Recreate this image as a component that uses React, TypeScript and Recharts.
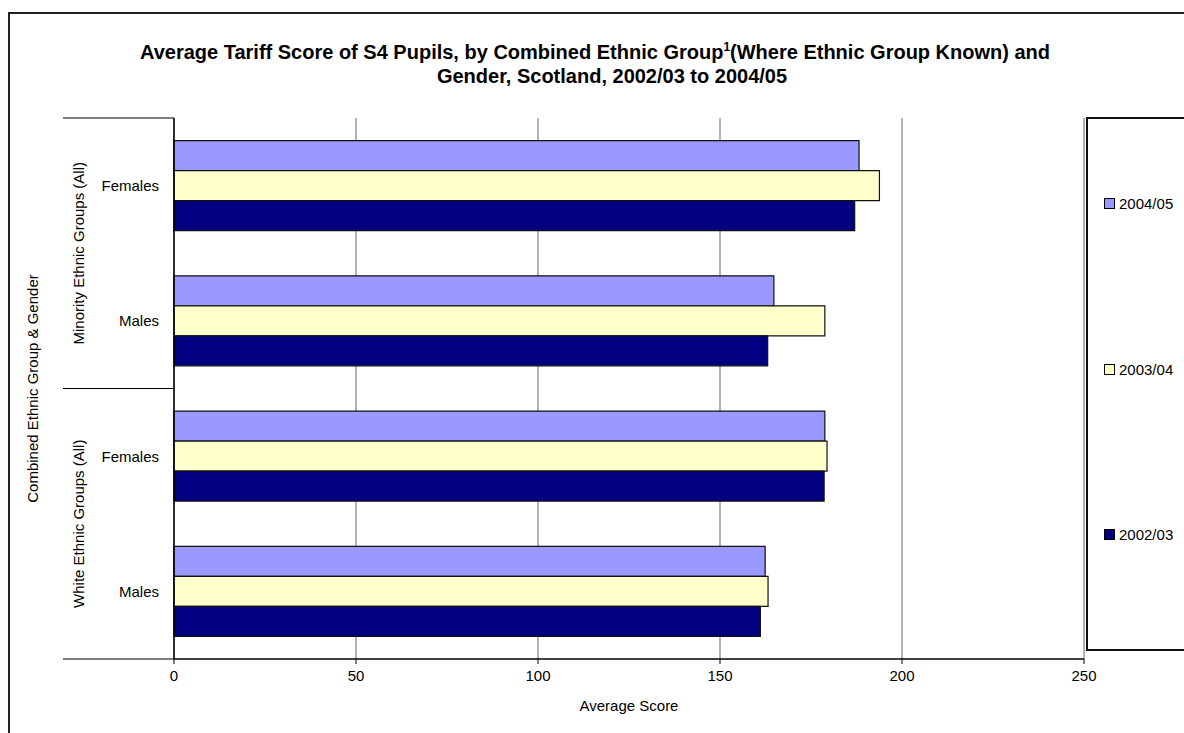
import React from 'react';
import { BarChart, Bar, XAxis, YAxis, CartesianGrid, Legend } from 'recharts';

const groups = ['Minority Ethnic Groups (All)', 'White Ethnic Groups (All)'];
const genders = ['Females', 'Males', 'Females', 'Males'];
const groupOfRow = [0, 0, 1, 1];
const s200405 = [188.2, 164.8, 178.8, 162.4];
const s200304 = [193.8, 178.8, 179.4, 163.2];
const s200203 = [187.0, 163.1, 178.6, 161.1];
const seriesNames = ['2004/05', '2003/04', '2002/03'];
const seriesColors = ['#9999FF', '#FFFFCC', '#000080'];
const xTicks = [0, 50, 100, 150, 200, 250];

const data = genders.map((g, i) => ({
  key: `${groups[groupOfRow[i]]}|${g}`,
  gender: g,
  group: groups[groupOfRow[i]],
  v0: s200405[i],
  v1: s200304[i],
  v2: s200203[i],
}));

const FONT = 'Arial, "Liberation Sans", sans-serif';

const YTick = (props: any) => {
  const { x, y, payload } = props;
  const index = payload.index ?? props.index;
  const row = data[index];
  const half = payload.offset ? payload.offset : 541 / 8;
  const els: any[] = [];
  els.push(
    <text key="t" x={x} y={y} textAnchor="end" dominantBaseline="central" fontSize={15} fontFamily={FONT} fill="#000">
      {row.gender}
    </text>
  );
  const first = index === 0 || groupOfRow[index - 1] !== groupOfRow[index];
  const last = index === data.length - 1 || groupOfRow[index + 1] !== groupOfRow[index];
  if (first) {
    els.push(<line key="s1" x1={x - 96} x2={x + 15} y1={y - half} y2={y - half} stroke="#000" strokeWidth={1.2} />);
  }
  if (last) {
    const top = y - half * (2 * (index - data.findIndex((d, j) => groupOfRow[j] === groupOfRow[index])) + 1);
    const cy = (top + y + half) / 2;
    const gx = x - 81;
    els.push(<line key="s2" x1={x - 96} x2={x + 15} y1={y + half} y2={y + half} stroke="#000" strokeWidth={1.2} />);
    els.push(
      <text key="g" x={gx} y={cy} transform={`rotate(-90 ${gx} ${cy})`} textAnchor="middle" dominantBaseline="central" fontSize={15} fontFamily={FONT} fill="#000">
        {row.group}
      </text>
    );
  }
  return <g>{els}</g>;
};

const renderLegend = (props: any) => {
  const payload = (props.payload || []).slice().sort((a: any, b: any) => seriesNames.indexOf(a.value) - seriesNames.indexOf(b.value));
  const tops = [84, 250, 415];
  return (
    <div style={{ position: 'relative', width: 200, height: 534, border: '2px solid #111', boxSizing: 'border-box' }}>
      {payload.map((p: any, i: number) => (
        <div key={p.value} style={{ position: 'absolute', left: 16, top: tops[i] - 10, height: 20, display: 'flex', alignItems: 'center', fontFamily: FONT, fontSize: 15, color: '#000', whiteSpace: 'nowrap' }}>
          <span style={{ display: 'inline-block', width: 9, height: 9, background: p.color, border: '1px solid #000', marginRight: 4 }} />
          {p.value}
        </div>
      ))}
    </div>
  );
};

const titleStyle: any = { position: 'absolute', width: 1000, textAlign: 'center', fontFamily: FONT, fontWeight: 'bold', fontSize: 20, lineHeight: '24px', color: '#000', whiteSpace: 'nowrap' };

export default function App() {
  return (
    <div style={{ position: 'fixed', left: 0, top: 0, width: 1184, height: 733, background: '#fff', overflow: 'hidden' }}>
      <div style={{ position: 'absolute', left: 8, top: 12, width: 2000, height: 2000, border: '2px solid #222' }} />
      <div style={{ ...titleStyle, left: 95, top: 40 }}>
        Average Tariff Score of S4 Pupils, by Combined Ethnic Group<sup style={{ fontSize: 12, lineHeight: 0 }}>1</sup>(Where Ethnic Group Known) and
      </div>
      <div style={{ ...titleStyle, left: 112, top: 64 }}>Gender, Scotland, 2002/03 to 2004/05</div>
      <div style={{ position: 'absolute', left: 0, top: 0 }}>
        <BarChart
          width={1184}
          height={733}
          data={data}
          layout="vertical"
          margin={{ top: 118, right: 100, bottom: 24, left: 0 }}
          barCategoryGap="16.7%"
          barGap={0}
        >
          <CartesianGrid horizontal={false} vertical stroke="#666" strokeWidth={1} />
          <XAxis
            type="number"
            domain={[0, 250]}
            ticks={xTicks}
            interval={0}
            height={50}
            tickSize={5}
            tickMargin={6}
            axisLine={{ stroke: '#000', strokeWidth: 1.5 }}
            tickLine={{ stroke: '#000' }}
            tick={{ fontSize: 15, fontFamily: FONT, fill: '#000' }}
            label={{
              value: 'Average Score',
              content: (p: any) => (
                <text x={p.viewBox.x + p.viewBox.width / 2} y={705} textAnchor="middle" dominantBaseline="central" fontSize={15} fontFamily={FONT} fill="#000">
                  Average Score
                </text>
              ),
            }}
          />
          <XAxis xAxisId="top" orientation="top" type="number" domain={[0, 250]} height={0} tick={false} tickLine={false} axisLine={{ stroke: '#111', strokeWidth: 1.5 }} />
          <YAxis
            type="category"
            dataKey="key"
            width={174}
            interval={0}
            tickSize={0}
            tickMargin={15}
            tickLine={false}
            axisLine={{ stroke: '#000', strokeWidth: 1.5 }}
            tick={<YTick />}
            label={{
              value: 'Combined Ethnic Group & Gender',
              content: (p: any) => {
                const cx = 32;
                const cy = p.viewBox.y + p.viewBox.height / 2;
                return (
                  <text x={cx} y={cy} transform={`rotate(-90 ${cx} ${cy})`} textAnchor="middle" dominantBaseline="central" fontSize={15} fontFamily={FONT} fill="#000">
                    Combined Ethnic Group & Gender
                  </text>
                );
              },
            }}
          />
          <YAxis yAxisId="right" orientation="right" type="category" dataKey="key" width={0} tick={false} tickLine={false} axisLine={{ stroke: '#111', strokeWidth: 2 }} />
          <Legend
            layout="horizontal"
            verticalAlign="middle"
            align="center"
            content={renderLegend}
            wrapperStyle={{ position: 'absolute', left: 1086, top: 117, width: 200, height: 534 }}
          />
          <Bar dataKey="v0" name={seriesNames[0]} fill={seriesColors[0]} stroke="#111" strokeWidth={1.2} isAnimationActive={false} />
          <Bar dataKey="v1" name={seriesNames[1]} fill={seriesColors[1]} stroke="#111" strokeWidth={1.2} isAnimationActive={false} />
          <Bar dataKey="v2" name={seriesNames[2]} fill={seriesColors[2]} stroke="#111" strokeWidth={1.2} isAnimationActive={false} />
        </BarChart>
      </div>
    </div>
  );
}
